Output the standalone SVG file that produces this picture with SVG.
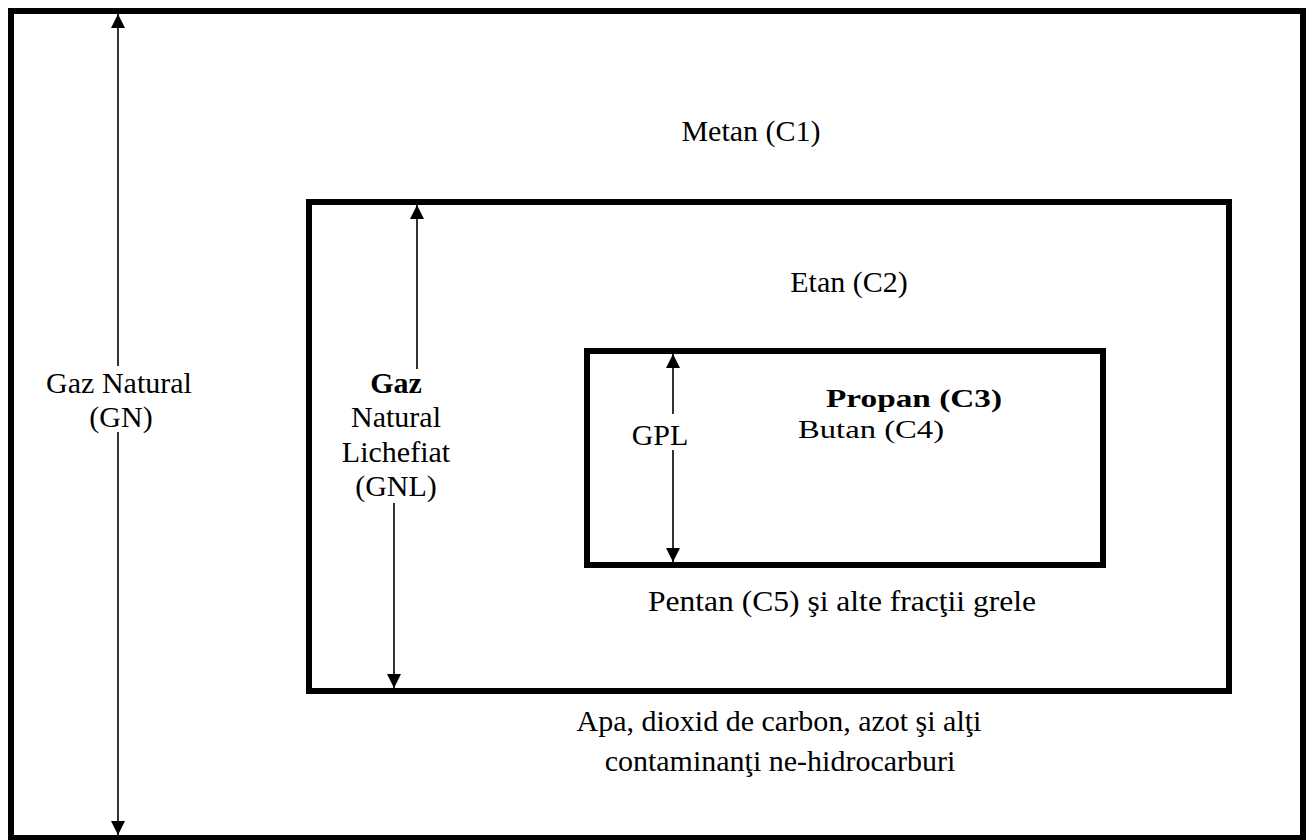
<svg xmlns="http://www.w3.org/2000/svg" width="1308" height="840" viewBox="0 0 1308 840">
<defs>
<style>
.box{fill:none;stroke:#000;stroke-width:6}
.ln{fill:none;stroke:#000;stroke-width:1.6}
text{font-family:"Liberation Serif","Times New Roman",serif;fill:#000;font-size:30px}
.sm{font-size:26px}
.b{font-weight:bold}
.c{text-anchor:middle}
</style>
<marker id="ah" viewBox="0 0 10 10" refX="10" refY="5" markerWidth="14" markerHeight="14" markerUnits="userSpaceOnUse" orient="auto"><path d="M0,0 L10,5 L0,10 z" fill="#000"/></marker>
</defs>
<rect width="1308" height="840" fill="#fff"/>
<g id="outer"><rect class="box" x="11" y="11" width="1292" height="827"/>
<text class="c" x="751" y="141">Metan (C1)</text>
<text class="c" x="119" y="393">Gaz Natural</text>
<text class="c" x="121" y="427">(GN)</text>
<text class="c" x="779" y="731">Apa, dioxid de carbon, azot şi alţi</text>
<text class="c" x="780" y="771">contaminanţi ne-hidrocarburi</text>
</g>
<g id="middle"><rect class="box" x="309" y="202" width="920" height="489"/>
<text class="c" x="849" y="292">Etan (C2)</text>
<text class="c b" x="396" y="393">Gaz</text>
<text class="c" x="396" y="427">Natural</text>
<text class="c" x="396" y="462">Lichefiat</text>
<text class="c" x="396" y="496">(GNL)</text>
<text x="648" y="611" textLength="388" lengthAdjust="spacingAndGlyphs">Pentan (C5) şi alte fracţii grele</text>
</g>
<g id="inner"><rect class="box" x="587" y="351" width="516" height="214"/>
<text class="c" x="660" y="445">GPL</text>
<text class="sm b" x="826" y="407" textLength="176" lengthAdjust="spacingAndGlyphs">Propan (C3)</text>
<text class="sm" x="798" y="438" textLength="146" lengthAdjust="spacingAndGlyphs">Butan (C4)</text>
</g>
<g id="connectors">
<line class="ln" x1="118" y1="366" x2="118" y2="14" marker-end="url(#ah)"/>
<line class="ln" x1="118" y1="432" x2="118" y2="835" marker-end="url(#ah)"/>
<line class="ln" x1="417" y1="369" x2="417" y2="205" marker-end="url(#ah)"/>
<line class="ln" x1="394" y1="503" x2="394" y2="688" marker-end="url(#ah)"/>
<line class="ln" x1="673" y1="414" x2="673" y2="354" marker-end="url(#ah)"/>
<line class="ln" x1="673" y1="450" x2="673" y2="562" marker-end="url(#ah)"/>
</g>
</svg>
